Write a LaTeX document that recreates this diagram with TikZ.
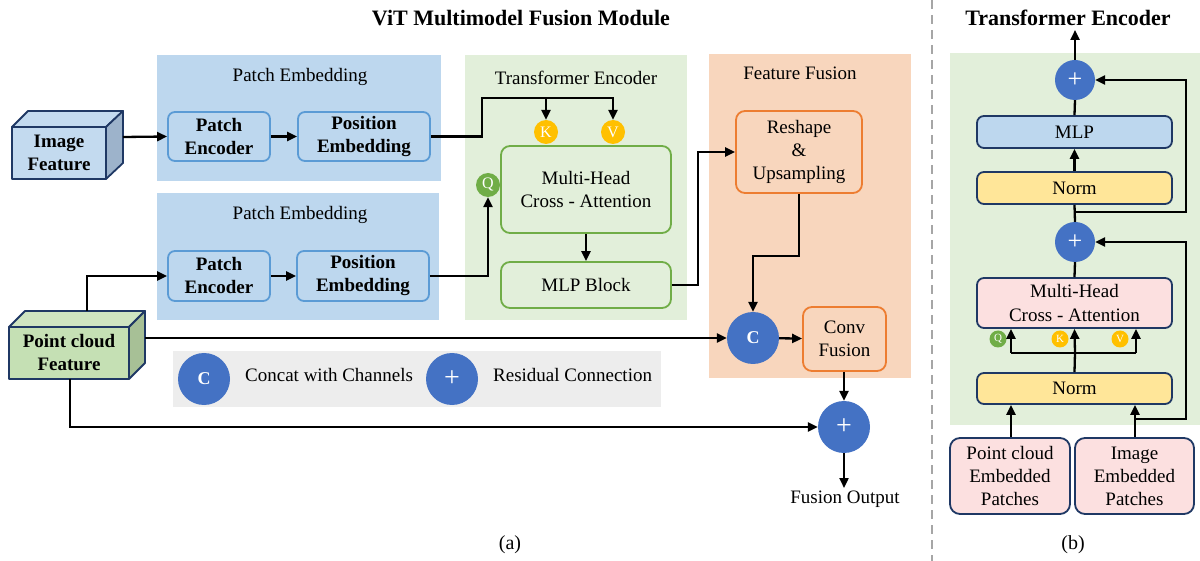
\documentclass[tikz,border=0pt]{standalone}
\usepackage{fontspec}
\setmainfont{Liberation Serif}
\usetikzlibrary{arrows.meta,calc}
\definecolor{blueBG}{HTML}{BDD7EE}
\definecolor{boxBlue}{HTML}{5B9BD5}
\definecolor{greenBG}{HTML}{E2EFDA}
\definecolor{greenLn}{HTML}{70AD47}
\definecolor{orangeBG}{HTML}{F8D6BD}
\definecolor{orangeLn}{HTML}{ED7D31}
\definecolor{legGray}{HTML}{EDEDED}
\definecolor{cBlue}{HTML}{4472C4}
\definecolor{kYellow}{HTML}{FFC000}
\definecolor{navy}{HTML}{1F3864}
\definecolor{pinkBG}{HTML}{FCE0E0}
\definecolor{normY}{HTML}{FFE699}
\definecolor{cubeBlueF}{HTML}{C3DAEF}
\definecolor{cubeBlueS}{HTML}{9DB3CB}
\definecolor{cubeGreenF}{HTML}{C5E0B4}
\definecolor{cubeGreenT}{HTML}{CFE5C1}
\definecolor{cubeGreenS}{HTML}{A7C096}
\definecolor{dashGray}{HTML}{A6A6A6}
\newcommand\myfs{\fontsize{19}{23}\selectfont}
\begin{document}
\begin{tikzpicture}[x=1pt,y=-1pt,
  arr/.style={line width=2.3pt,-{Triangle[length=10pt,width=9pt]}},
  ln/.style={line width=2.3pt},
  ttl/.style={font=\myfs, inner sep=0},
  bbox/.style={draw=boxBlue, fill=blueBG, line width=1.8pt, rounded corners=7pt, font=\myfs\bfseries, align=center, inner sep=0},
  gbox/.style={draw=greenLn, fill=greenBG, line width=1.8pt, rounded corners=9pt, font=\myfs, align=center, inner sep=0},
  obox/.style={draw=orangeLn, fill=orangeBG, line width=1.8pt, rounded corners=9pt, font=\myfs, align=center, inner sep=0},
  nbox/.style={draw=navy, line width=1.8pt, rounded corners=7pt, font=\myfs, align=center, inner sep=0, minimum width=195pt},
  circ/.style={circle, fill=cBlue, minimum size=52pt, inner sep=0, text=white},
  scirc/.style={circle, fill=cBlue, minimum size=40pt, inner sep=0, text=white, font=\fontsize{26}{26}\selectfont},
  qkv/.style={circle, minimum size=24pt, inner sep=0, text=white, font=\fontsize{16}{16}\selectfont},
  sqkv/.style={circle, minimum size=17pt, inner sep=0, text=white, font=\fontsize{11}{11}\selectfont},
  cube/.style={draw=navy, line width=1.8pt, line join=round}
]
\useasboundingbox (0,0) rectangle (1200,561);

% ---------- titles ----------
\node[font=\fontsize{22}{22}\selectfont\bfseries] (title-a) at (521,18) {ViT Multimodel Fusion Module};
\node[font=\fontsize{22}{22}\selectfont\bfseries] (title-b) at (1068,18) {Transformer Encoder};
\node[font=\fontsize{20}{20}\selectfont] (cap-a) at (510,545) {(a)};
\node[font=\fontsize{20}{20}\selectfont] (cap-b) at (1073,545) {(b)};
\draw[dashGray, line width=2pt, dash pattern=on 9pt off 6pt] (932,0) -- (932,561);

% ---------- panels (a) ----------
\fill[blueBG] (157,55) rectangle (441,181);
\fill[blueBG] (157,193) rectangle (439,320);
\fill[greenBG] (465,55) rectangle (687,320);
\fill[orangeBG] (709,54) rectangle (911,378);
\fill[legGray] (173,351) rectangle (661,407);

\node[ttl] (pe1t) at (300,77) {Patch Embedding};
\node[ttl] (pe2t) at (300,215) {Patch Embedding};
\node[ttl] (tet) at (576,78) {Transformer Encoder};
\node[ttl] (fft) at (800,73) {Feature Fusion};

% ---------- cuboids ----------
\filldraw[cube, fill=cubeBlueF] (12,127) -- (28,111) -- (123,111) -- (106,127) -- cycle;
\filldraw[cube, fill=cubeBlueS] (106,127) -- (123,111) -- (123,163) -- (106,179) -- cycle;
\node[cube, draw, fill=cubeBlueF, minimum width=94pt, minimum height=52pt, inner sep=0, font=\myfs\bfseries, align=center] (imgf) at (59,153) {Image\\Feature};
\coordinate (imgout) at (123,137);

\filldraw[cube, fill=cubeGreenT] (9,327) -- (25,311) -- (145,311) -- (129,327) -- cycle;
\filldraw[cube, fill=cubeGreenS] (129,327) -- (145,311) -- (145,363) -- (129,379) -- cycle;
\node[cube, draw, fill=cubeGreenF, minimum width=120pt, minimum height=52pt, inner sep=0, font=\myfs\bfseries, align=center] (pcf) at (69,353) {Point cloud\\Feature};
\coordinate (pctop) at (87,311);
\coordinate (pcside) at (145,338);
\coordinate (pcbot) at (70,379);

% ---------- patch embedding boxes ----------
\node[bbox, minimum width=102pt, minimum height=49pt] (penc1) at (219,136.5) {Patch\\Encoder};
\node[bbox, minimum width=132pt, minimum height=49pt] (pos1) at (364,136.5) {Position\\Embedding};
\node[bbox, minimum width=102pt, minimum height=50pt] (penc2) at (219,276) {Patch\\Encoder};
\node[bbox, minimum width=132pt, minimum height=50pt] (pos2) at (363,276) {Position\\Embedding};

% ---------- transformer encoder (a) ----------
\node[gbox, minimum width=170pt, minimum height=87pt] (mhca) at (586,189.5) {Multi-Head\\Cross - Attention};
\node[gbox, minimum width=170pt, minimum height=46pt] (mlpa) at (586,285) {MLP Block};
\node[qkv, fill=kYellow] (Ka) at (546,132) {K};
\node[qkv, fill=kYellow] (Va) at (613,132) {V};
\node[qkv, fill=greenLn] (Qa) at (488,185) {Q};
\coordinate (kvbus) at (482,98);
\coordinate (j1) at (698,152);

% ---------- feature fusion ----------
\node[obox, minimum width=126pt, minimum height=82pt] (resh) at (799,152) {Reshape\\\&\\Upsampling};
\node[circ, font=\fontsize{18}{18}\selectfont\bfseries] (cat) at (753,338) {C};
\node[obox, minimum width=83pt, minimum height=64pt] (conv) at (844.5,339) {Conv\\Fusion};
\node[circ, font=\fontsize{28}{28}\selectfont] (plusa) at (844,427) {+};
\node[ttl] (fout) at (845,499) {Fusion Output};
\coordinate (foutin) at (844,488);

% ---------- legend ----------
\node[circ, font=\fontsize{18}{18}\selectfont\bfseries] (legc) at (204,379) {C};
\node[ttl, anchor=west] (legct) at (245,375) {Concat with Channels};
\node[circ, font=\fontsize{28}{28}\selectfont] (legp) at (452,379) {+};
\node[ttl, anchor=west] (legpt) at (493,375) {Residual Connection};

% ---------- connectors (a) ----------
\draw[arr] (imgout) -- (penc1.west);
\draw[arr] (penc1) -- (pos1);
\draw[arr] (pos1.east) -| (kvbus) -| (Va.north);
\draw[arr] (Ka.north |- kvbus) -- (Ka.north);
\draw[arr] (pctop) |- (penc2.west);
\draw[arr] (penc2) -- (pos2);
\draw[arr] (pos2.east) -| (Qa.south);
\draw[arr] (mhca) -- (mlpa);
\draw[arr] (mlpa.east) -| (j1) -- (resh.west);
\draw[arr] (resh.south) -- ++(0,62) -| (cat.north);
\draw[arr] (pcside) -- (cat.west);
\draw[arr] (cat) -- (conv);
\draw[arr] (conv.south -| plusa) -- (plusa.north);
\draw[arr] (pcbot) |- (plusa.west);
\draw[arr] (plusa.south) -- (foutin);

% ---------- panel (b) ----------
\fill[greenBG] (950,53) rectangle (1200,425);
\node[scirc] (p1) at (1075,80) {+};
\node[nbox, fill=blueBG, minimum height=32pt] (mlpb) at (1074.5,132) {MLP};
\node[nbox, fill=normY, minimum height=32pt] (norm1) at (1074.5,188) {Norm};
\node[scirc] (p2) at (1075,242) {+};
\node[nbox, fill=pinkBG, minimum height=50pt, font=\fontsize{19}{24}\selectfont] (mhcb) at (1074.5,303) {Multi-Head\\Cross - Attention};
\node[nbox, fill=normY, minimum height=31pt] (norm2) at (1074.5,388.5) {Norm};
\node[nbox, fill=pinkBG, minimum width=120pt, minimum height=76pt, rounded corners=10pt] (pcep) at (1010,476) {Point cloud\\Embedded\\Patches};
\node[nbox, fill=pinkBG, minimum width=119pt, minimum height=76pt, rounded corners=10pt] (iep) at (1134.5,476) {Image\\Embedded\\Patches};
\node[sqkv, fill=greenLn] (Qb) at (998,339) {Q};
\node[sqkv, fill=kYellow] (Kb) at (1060,339) {K};
\node[sqkv, fill=kYellow] (Vb) at (1120,339) {V};

\coordinate (bout) at (1075,30);
\coordinate (r1) at (1075,212);
\coordinate (r1a) at (1186,212);
\coordinate (r2) at (1135,419);
\coordinate (r2a) at (1186,419);
\coordinate (bus) at (1075,353);
\coordinate (busl) at (1011,353);
\coordinate (busr) at (1136,353);

\draw[arr] (p1.north) -- (bout);
\draw[ln] (mlpb.north) -- (p1.south);
\draw[arr] (norm1.north) -- (mlpb.south);
\draw[ln] (p2.north) -- (norm1.south);
\draw[arr] (r1) -- (r1a) |- (p1.east);
\draw[ln] (mhcb.north) -- (p2.south);
\draw[arr] (r2) -- (r2a) |- (p2.east);
\draw[ln] (norm2.north) -- (bus);
\draw[ln] (busl) -- (busr);
\draw[arr] (busl) -- (busl |- mhcb.south);
\draw[arr] (bus) -- (mhcb.south);
\draw[arr] (busr) -- (busr |- mhcb.south);
\draw[arr] (pcep.north -| busl) -- (busl |- norm2.south);
\draw[arr] (iep.north -| r2) -- (r2 |- norm2.south);
\end{tikzpicture}
\end{document}
